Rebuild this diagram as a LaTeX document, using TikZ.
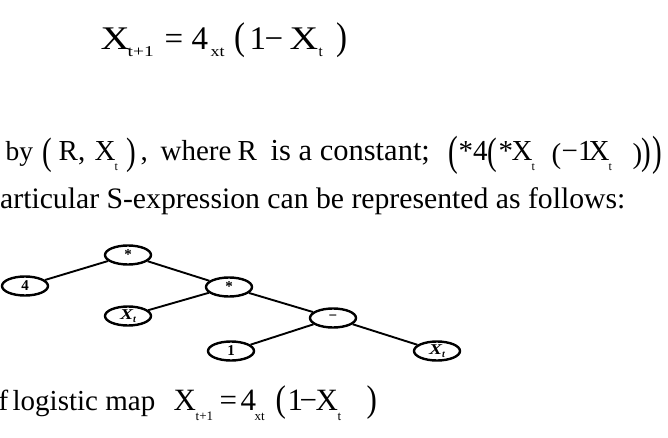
\documentclass[tikz,border=0pt]{standalone}
\usepackage{fontspec}
\usepackage{graphicx}
\setmainfont{Liberation Serif}
\usetikzlibrary{shapes.geometric}
% piece placed at an absolute x offset from the line's start
\newcommand{\pc}[2]{\makebox[0pt][l]{\hspace*{#1pt}#2}}
% subscript piece: x offset, lowering, size, horizontal scale, text
\newcommand{\subp}[5]{\pc{#1}{\raisebox{-#2pt}{\fontsize{#3}{#3}\selectfont\scalebox{#4}[1]{#5}}}}
% scaled parenthesis: y scale, lowering, glyph
\newcommand{\bigp}[3]{\raisebox{-#2pt}{\scalebox{1}[#1]{#3}}}
\tikzset{
  txt/.style={anchor=base west, inner sep=0pt},
  tnode/.style={ellipse, draw, line width=2.4pt, minimum width=46pt, minimum height=19pt, inner sep=0pt, fill=white, font=\fontsize{15}{15}\selectfont\bfseries},
  tedge/.style={line width=1.9pt}
}
\newcommand{\xt}{\scalebox{1.3}[1]{\fontsize{15}{15}\selectfont\bfseries\itshape X}\raisebox{-3pt}{\fontsize{10}{10}\selectfont\bfseries\itshape t}}
\begin{document}
\begin{tikzpicture}[x=1pt,y=-1pt]
\useasboundingbox (0,0) rectangle (668,438);
\node[txt, font=\fontsize{33}{36}\selectfont] (l1) at (0,50) {%
\pc{100}{\scalebox{1.22}[1]{X}}%
\subp{127}{7}{15}{1.3}{t+1}%
\pc{164}{=}%
\pc{191}{4}%
\subp{210}{7}{15}{1.2}{xt}%
\pc{234}{\bigp{1.17}{0}{(}}%
\pc{249}{1}%
\pc{264}{−}%
\pc{289}{\scalebox{1.2}[1]{X}}%
\subp{318}{7}{15}{1}{t}%
\pc{336}{\bigp{1.17}{0}{)}}};
\node[txt, font=\fontsize{29}{36}\selectfont] (l2) at (0,161) {%
\pc{5}{\fontsize{27.5}{36}\selectfont by}%
\pc{42}{\bigp{1.32}{3.5}{(}}%
\pc{58}{R,}%
\pc{94}{X}%
\subp{114}{10}{12}{1}{t}%
\pc{126}{\bigp{1.32}{3.5}{)}}%
\pc{140}{,}%
\pc{160}{where}%
\pc{237}{R}%
\pc{270}{\fontsize{30.5}{36}\selectfont is a constant;}%
\pc{448}{\bigp{1.46}{4.5}{(}}%
\pc{458}{*4}%
\pc{487}{\bigp{1.32}{3.5}{(}}%
\pc{498}{*}%
\pc{511}{X}%
\subp{531}{10}{12}{1}{t}%
\pc{551}{\bigp{1}{2.5}{(}}%
\pc{561}{−1}%
\pc{588}{X}%
\subp{608}{10}{12}{1}{t}%
\pc{632}{\bigp{1}{2.5}{)}}%
\pc{641}{\bigp{1.32}{3.5}{)}}%
\pc{652}{\bigp{1.46}{4.5}{)}}};
\node[txt, font=\fontsize{29.7}{36}\selectfont] (l3) at (0,208) {articular S-expression can be represented as follows:};
\node[txt, font=\fontsize{31}{36}\selectfont] (l4) at (0,410) {%
\pc{-2}{\fontsize{29}{36}\selectfont f}%
\pc{12}{\fontsize{29}{36}\selectfont logistic map}%
\pc{173}{X}%
\subp{195}{10}{13}{1}{t+1}%
\pc{219}{=}%
\pc{240}{4}%
\subp{254}{10}{13}{1}{xt}%
\pc{275}{\bigp{1.2}{1.5}{(}}%
\pc{287}{1}%
\pc{299}{−}%
\pc{315}{X}%
\subp{337}{10}{13}{1}{t}%
\pc{366}{\bigp{1.2}{1.5}{)}}};
\node[tnode] (r) at (128,255) {*};
\node[tnode] (n4) at (25,286) {4};
\node[tnode] (m) at (229,287) {*};
\node[tnode] (xa) at (128,316) {\xt};
\node[tnode] (mi) at (333,318) {−};
\node[tnode] (one) at (231,351) {1};
\node[tnode] (xb) at (437,351) {\xt};
\draw[tedge] (r) -- (n4);
\draw[tedge] (r) -- (m);
\draw[tedge] (m) -- (xa);
\draw[tedge] (m) -- (mi);
\draw[tedge] (mi) -- (one);
\draw[tedge] (mi) -- (xb);
\end{tikzpicture}
\end{document}
